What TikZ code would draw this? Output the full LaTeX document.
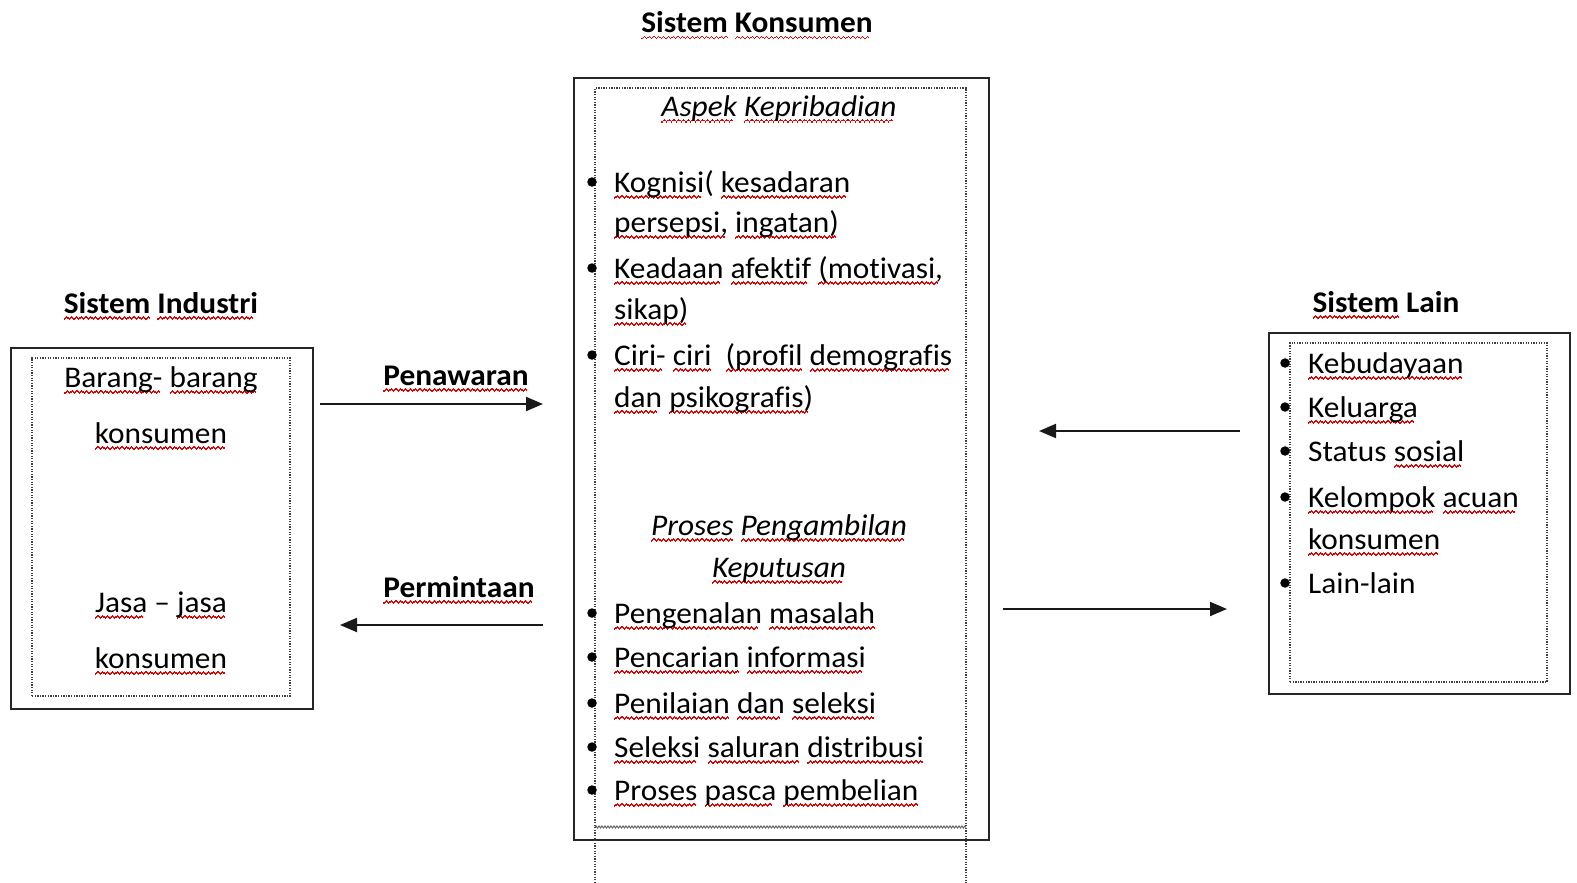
\documentclass[tikz,border=0pt]{standalone}
\usepackage{fontspec}
\setmainfont[FakeStretch=1.045,Ligatures=NoCommon]{Carlito}
\usetikzlibrary{arrows.meta,decorations.pathmorphing}
\newsavebox\rwbox
\newcommand\wvunit{\hbox{\rule[-6.5pt]{1.2pt}{1.3pt}\rule[-5.5pt]{1.2pt}{1.3pt}\rule[-4.5pt]{1.2pt}{1.3pt}\rule[-5.5pt]{1.2pt}{1.3pt}}}
\newcommand\rw[1]{\sbox\rwbox{#1}\leavevmode\rlap{\color{red!90!black}\hbox to \wd\rwbox{\leaders\wvunit\hfill}}\usebox\rwbox}
\tikzset{
  fnt/.style={font=\fontsize{30}{36}\selectfont},
  tx/.style={fnt, anchor=base west, inner sep=0pt},
  txc/.style={fnt, anchor=base, inner sep=0pt},
  bul/.style={circle, fill=black, inner sep=0pt, minimum size=9.5pt},
  outerbox/.style={draw=black!85, line width=2pt, inner sep=0pt, outer sep=0pt},
  innerbox/.style={draw=black!75, line width=1.3pt, dash pattern=on 1.3pt off 1.3pt, inner sep=0pt, outer sep=0pt},
  arr/.style={line width=2pt, draw=black!90, -{Triangle[length=17pt,width=14pt]}},
}
\begin{document}
\begin{tikzpicture}[x=1pt,y=-1pt]
\useasboundingbox (0,0) rectangle (1577,883);
% ---------- titles
\node[txc] (tK) at (757,33) {\bfseries\rw{Sistem} \rw{Konsumen}};
\node[txc] (tI) at (161,313) {\bfseries\rw{Sistem} \rw{Industri}};
\node[txc] (tL) at (1386,312) {\bfseries\rw{Sistem} Lain};
% ---------- left box
\node[outerbox, minimum width=302pt, minimum height=361pt] (indOut) at (162,528.5) {};
\node[innerbox, minimum width=258pt, minimum height=338pt] (indIn) at (161,527) {};
\node[txc] (i1) at (161,387) {\rw{Barang-} \rw{barang}};
\node[txc] (i2) at (161,443) {\rw{konsumen}};
\node[txc] (i3) at (161,612) {\rw{Jasa} -- \rw{jasa}};
\node[txc] (i4) at (161,668) {\rw{konsumen}};
% ---------- center box
\node[outerbox, minimum width=415pt, minimum height=762pt] (konOut) at (781.5,459) {};
\draw[draw=black!75, line width=1.3pt, dash pattern=on 1.3pt off 1.3pt] (595,883) -- (595,88) -- (966,88) -- (966,883);
\draw[draw=black!60, line width=1pt, decorate, decoration={snake, amplitude=1pt, segment length=3pt}] (595,827) -- (966,827);
\node[txc] (a0) at (779,116) {\itshape\rw{Aspek} \rw{Kepribadian}};
\node[bul] (b1) at (592,182) {};
\node[tx] (a1) at (614,192) {\rw{Kognisi}( \rw{kesadaran}};
\node[tx] (a2) at (614,232) {\rw{persepsi,} \rw{ingatan)}};
\node[bul] (b2) at (592,268) {};
\node[tx] (a3) at (614,278) {\rw{Keadaan} \rw{afektif} \rw{(motivasi,}};
\node[tx] (a4) at (614,319) {\rw{sikap)}};
\node[bul] (b3) at (592,355) {};
\node[tx] (a5) at (614,365) {\rw{Ciri-} \rw{ciri}\ \ \rw{(profil} \rw{demografis}};
\node[tx] (a6) at (614,407) {\rw{dan} \rw{psikografis)}};
\node[txc] (p0) at (779,535) {\itshape\rw{Proses} \rw{Pengambilan}};
\node[txc] (p0b) at (779,577) {\itshape\rw{Keputusan}};
\node[bul] (c1) at (592,613) {};
\node[tx] (p1) at (614,623) {\rw{Pengenalan} \rw{masalah}};
\node[bul] (c2) at (592,657) {};
\node[tx] (p2) at (614,667) {\rw{Pencarian} \rw{informasi}};
\node[bul] (c3) at (592,703) {};
\node[tx] (p3) at (614,713) {\rw{Penilaian} \rw{dan} \rw{seleksi}};
\node[bul] (c4) at (592,747) {};
\node[tx] (p4) at (614,757) {\rw{Seleksi} \rw{saluran} \rw{distribusi}};
\node[bul] (c5) at (592,790) {};
\node[tx] (p5) at (614,800) {\rw{Proses} \rw{pasca} \rw{pembelian}};
% ---------- right box
\node[outerbox, minimum width=301pt, minimum height=361pt] (lainOut) at (1419.5,513.5) {};
\node[innerbox, minimum width=257pt, minimum height=339pt] (lainIn) at (1418.5,512.5) {};
\node[bul] (d1) at (1285,363) {};
\node[tx] (l1) at (1308,373) {\rw{Kebudayaan}};
\node[bul] (d2) at (1285,407) {};
\node[tx] (l2) at (1308,417) {\rw{Keluarga}};
\node[bul] (d3) at (1285,451) {};
\node[tx] (l3) at (1308,461) {Status \rw{sosial}};
\node[bul] (d4) at (1285,497) {};
\node[tx] (l4) at (1308,507) {\rw{Kelompok} \rw{acuan}};
\node[tx] (l5) at (1308,549) {\rw{konsumen}};
\node[bul] (d5) at (1285,583) {};
\node[tx] (l6) at (1308,593) {Lain-lain};
% ---------- arrow labels and arrows
\node[txc] (pen) at (456,385) {\bfseries\rw{Penawaran}};
\node[txc] (per) at (459,597) {\bfseries\rw{Permintaan}};
\coordinate (e1s) at (320,404);  \coordinate (e1e) at (543,404);
\coordinate (e2s) at (543,625);  \coordinate (e2e) at (340,625);
\coordinate (e3s) at (1240,431); \coordinate (e3e) at (1039,431);
\coordinate (e4s) at (1003,609); \coordinate (e4e) at (1227,609);
\draw[arr] (e1s) -- (e1e);
\draw[arr] (e2s) -- (e2e);
\draw[arr] (e3s) -- (e3e);
\draw[arr] (e4s) -- (e4e);
\end{tikzpicture}
\end{document}
